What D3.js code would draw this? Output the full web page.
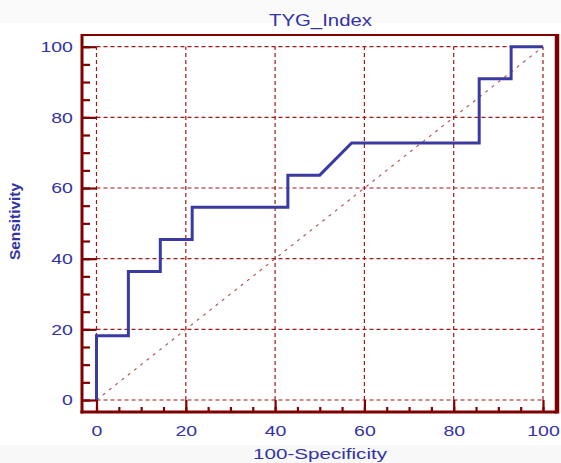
<!DOCTYPE html>
<html>
<head>
<meta charset="utf-8">
<script src="https://cdn.jsdelivr.net/npm/d3@7"></script>
<style>
  body { margin: 0; background: #fff; }
  text { font-family: "Liberation Sans", Arial, sans-serif; fill: #3333a6; }
</style>
</head>
<body>
<div id="chart"></div>
<script>
// ROC curve for TYG_Index
var fpr = [0, 0, 7.14, 7.14, 14.29, 14.29, 21.43, 21.43, 42.86, 42.86, 50, 57.14, 85.71, 85.71, 92.86, 92.86, 100];
var tpr = [0, 18.18, 18.18, 36.36, 36.36, 45.45, 45.45, 54.55, 54.55, 63.64, 63.64, 72.73, 72.73, 90.91, 90.91, 100, 100];
var majorTicks = [0, 20, 40, 60, 80, 100];
var minorTicks = d3.range(0, 101, 5);
var title = "TYG_Index",
    xTitle = "100-Specificity",
    yTitle = "Sensitivity";

var width = 561,
    height = 463,
    frame = {left: 82, top: 35, right: 557, bottom: 412};

var svg = d3.select("#chart")
  .append("svg")
  .attr("width", width)
  .attr("height", height);

// faint grey bands top and bottom like the screenshot
svg.append("rect").attr("x", 0).attr("y", 0).attr("width", width).attr("height", 23).attr("fill", "#fafafa");
svg.append("rect").attr("x", 0).attr("y", 445).attr("width", width).attr("height", 18).attr("fill", "#f8f8f8");

var x = d3.scaleLinear().domain([0, 100]).range([96.5, 543]);
var y = d3.scaleLinear().domain([0, 100]).range([400, 46.7]);

var red = "#800000";

// grid
var grid = svg.append("g").attr("class", "grid");
grid.selectAll(".vgrid")
  .data(majorTicks).enter()
  .append("line")
  .attr("x1", function(d) { return x(d); })
  .attr("x2", function(d) { return x(d); })
  .attr("y1", y(0))
  .attr("y2", y(100))
  .attr("stroke", "#a01818")
  .attr("stroke-width", 1.2)
  .attr("stroke-dasharray", "4,3");
grid.selectAll(".hgrid")
  .data(majorTicks).enter()
  .append("line")
  .attr("y1", function(d) { return y(d); })
  .attr("y2", function(d) { return y(d); })
  .attr("x1", x(0))
  .attr("x2", x(100))
  .attr("stroke", "#a01818")
  .attr("stroke-width", 1.2)
  .attr("stroke-dasharray", "4,3");

// reference diagonal
svg.append("line")
  .attr("x1", x(0)).attr("y1", y(0))
  .attr("x2", x(100)).attr("y2", y(100))
  .attr("stroke", "#b25a5a")
  .attr("stroke-width", 1.2)
  .attr("stroke-dasharray", "3,5");

// roc curve
var line = d3.line()
  .x(function(d) { return x(d[0]); })
  .y(function(d) { return y(d[1]); });

svg.append("path")
  .datum(d3.zip(fpr, tpr))
  .attr("d", line)
  .attr("fill", "none")
  .attr("stroke", "#3a3aa2")
  .attr("stroke-width", 3)
  .attr("stroke-linejoin", "miter");

// axes: ticks point inward from the frame
var yAxis = svg.append("g")
  .attr("transform", "translate(" + frame.left + "," + 0 + ")")
  .call(d3.axisLeft(y).tickValues(majorTicks).tickSizeInner(-(x(0) - frame.left)).tickSizeOuter(0).tickPadding(7));
var yMinor = svg.append("g")
  .attr("transform", "translate(" + frame.left + "," + 0 + ")")
  .call(d3.axisLeft(y).tickValues(minorTicks).tickSizeInner(-8).tickSizeOuter(0).tickFormat(""));

var xAxis = svg.append("g")
  .attr("transform", "translate(0," + frame.bottom + ")")
  .call(d3.axisBottom(x).tickValues(majorTicks).tickSizeInner(-(frame.bottom - y(0))).tickSizeOuter(0).tickPadding(13));
var xMinor = svg.append("g")
  .attr("transform", "translate(0," + frame.bottom + ")")
  .call(d3.axisBottom(x).tickValues(minorTicks).tickSizeInner(-5).tickSizeOuter(0).tickFormat(""));

[yAxis, yMinor, xAxis, xMinor].forEach(function(g) {
  g.select(".domain").remove();
  g.selectAll(".tick line").attr("stroke", red).attr("stroke-width", 2.2);
  g.selectAll(".tick text")
    .attr("font-size", 15)
    .attr("font-family", null)
    .attr("fill", "#3333a6")
    .attr("transform", "scale(1.3,1)");
});

// frame
svg.append("line").attr("x1", frame.left).attr("x2", frame.left).attr("y1", frame.top - 1).attr("y2", frame.bottom + 1.5)
  .attr("stroke", red).attr("stroke-width", 3);
svg.append("line").attr("x1", frame.left).attr("x2", frame.right).attr("y1", frame.top).attr("y2", frame.top)
  .attr("stroke", red).attr("stroke-width", 2);
svg.append("line").attr("x1", frame.right).attr("x2", frame.right).attr("y1", frame.top - 1).attr("y2", frame.bottom + 1.5)
  .attr("stroke", red).attr("stroke-width", 4.5);
svg.append("line").attr("x1", frame.left - 1.5).attr("x2", frame.right).attr("y1", frame.bottom).attr("y2", frame.bottom)
  .attr("stroke", red).attr("stroke-width", 3);

// titles
svg.append("text")
  .attr("x", 320.5)
  .attr("y", 26)
  .attr("text-anchor", "middle")
  .attr("font-size", 16)
  .attr("textLength", 103)
  .attr("lengthAdjust", "spacingAndGlyphs")
  .text(title);

svg.append("text")
  .attr("x", 320)
  .attr("y", 459)
  .attr("text-anchor", "middle")
  .attr("font-size", 15)
  .attr("textLength", 134)
  .attr("lengthAdjust", "spacingAndGlyphs")
  .text(xTitle);

svg.append("text")
  .attr("transform", "translate(19.5,221.5) rotate(-90)")
  .attr("text-anchor", "middle")
  .attr("font-size", 14)
  .attr("font-weight", "bold")
  .attr("textLength", 77)
  .attr("lengthAdjust", "spacingAndGlyphs")
  .text(yTitle);
</script>
</body>
</html>
